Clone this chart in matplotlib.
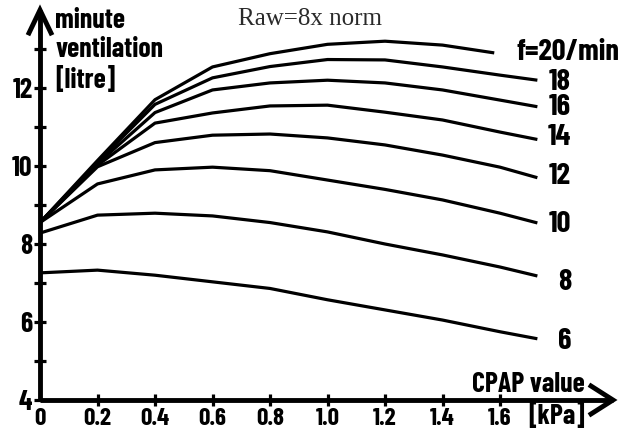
import matplotlib
matplotlib.use("Agg")
import matplotlib.pyplot as plt

cpap = [0, 0.2, 0.4, 0.6, 0.8, 1.0, 1.2, 1.4, 1.6, 1.73]
cpap_f20 = [0, 0.2, 0.4, 0.6, 0.8, 1.0, 1.2, 1.4, 1.58]

f6 = [7.26, 7.33, 7.20, 7.03, 6.86, 6.57, 6.31, 6.05, 5.75, 5.57]
f8 = [8.28, 8.74, 8.79, 8.72, 8.55, 8.31, 8.00, 7.72, 7.41, 7.18]
f10 = [8.55, 9.54, 9.90, 9.97, 9.88, 9.64, 9.40, 9.13, 8.79, 8.54]
f12 = [8.55, 9.98, 10.60, 10.79, 10.82, 10.72, 10.54, 10.28, 9.97, 9.70]
f14 = [8.55, 10.02, 11.10, 11.36, 11.54, 11.56, 11.38, 11.18, 10.87, 10.68]
f16 = [8.55, 10.06, 11.37, 11.95, 12.13, 12.20, 12.13, 11.95, 11.69, 11.52]
f18 = [8.55, 10.10, 11.58, 12.26, 12.55, 12.73, 12.72, 12.54, 12.33, 12.20]
f20 = [8.55, 10.14, 11.70, 12.54, 12.88, 13.12, 13.20, 13.10, 12.90]

series_labels = ["6", "8", "10", "12", "14", "16", "18", "f=20/min"]
label_y = [5.51, 7.0, 8.49, 9.72, 10.72, 11.5, 12.13, 12.92]

xticks = [0, 0.2, 0.4, 0.6, 0.8, 1.0, 1.2, 1.4, 1.6]
xticklabels = ["0", "0.2", "0.4", "0.6", "0.8", "1.0", "1.2", "1.4", "1.6"]
yticks = [4, 5, 6, 7, 8, 9, 10, 11, 12, 13]
yticklabels = ["4", "", "6", "", "8", "", "10", "", "12", ""]

FAM = ["Barlow Condensed", "DejaVu Sans"]
bold = dict(family=FAM, weight="bold")

fig = plt.figure(figsize=(6.24, 4.32), dpi=100)
ax = fig.add_axes([40 / 624, 32 / 432, 573 / 624, 390 / 432])
ax.set_xlim(0, 573 / 287.5)
ax.set_ylim(4, 14)

ys = [f6, f8, f10, f12, f14, f16, f18]
for y in ys:
    ax.plot(cpap, y, color="black", lw=2.3, solid_capstyle="butt")
ax.plot(cpap_f20, f20, color="black", lw=2.3, solid_capstyle="butt")

# series labels (right-aligned)
for lab, yy in zip(series_labels, label_y):
    xx = 1.847 if lab != "f=20/min" else 2.017
    ax.text(xx, yy, lab, fontsize=22, va="center", ha="right", **bold)

for s in ["top", "right"]:
    ax.spines[s].set_visible(False)
for s in ["left", "bottom"]:
    ax.spines[s].set_linewidth(3.5)
    ax.spines[s].set_capstyle("butt")

ax.set_xticks(xticks)
ax.set_xticklabels(xticklabels)
ax.set_yticks(yticks)
ax.set_yticklabels(yticklabels)
ax.tick_params(axis="both", direction="inout", length=9, width=2.3)
ax.tick_params(axis="x", pad=13.5)
ax.tick_params(axis="y", pad=1)
xt = ax.xaxis.get_major_ticks()
xt[0].tick1line.set_visible(False)
for t in ax.get_xticklabels():
    t.set_fontsize(18)
    t.set_fontweight("bold")
    t.set_family(FAM)
    t.set_verticalalignment("baseline")
for t in ax.get_yticklabels():
    t.set_fontsize(20)
    t.set_fontweight("bold")
    t.set_family(FAM)

# arrows (chevrons)
tr = ax.transAxes
W, H = 573.0, 390.0
ax.plot([1 - 22 / W, 1, 1 - 22 / W], [14 / H, 0, -14 / H], transform=tr, color="black",
        lw=3.5, clip_on=False, solid_joinstyle="miter")
ax.plot([-11 / W, 0, 11 / W], [1 - 23 / H, 1, 1 - 23 / H], transform=tr, color="black",
        lw=3.5, clip_on=False, solid_joinstyle="miter")

# axis titles
fig.text(55 / 624, 1 - 8 / 432, "minute\nventilation\n[litre]", fontsize=20, ha="left", va="top",
         linespacing=1.2, **bold)
fig.text(585 / 624, 1 - 384 / 432, "CPAP value", fontsize=20, ha="right", va="center", **bold)
fig.text(585 / 624, 1 - 415 / 432, "[kPa]", fontsize=20, ha="right", va="center", **bold)
fig.text(310 / 624, 1 - 19 / 432, "Raw=8x norm", fontsize=18, ha="center", va="center",
         family="Liberation Serif", color="#2a2a2a")

fig.savefig("out.png", dpi=100)
